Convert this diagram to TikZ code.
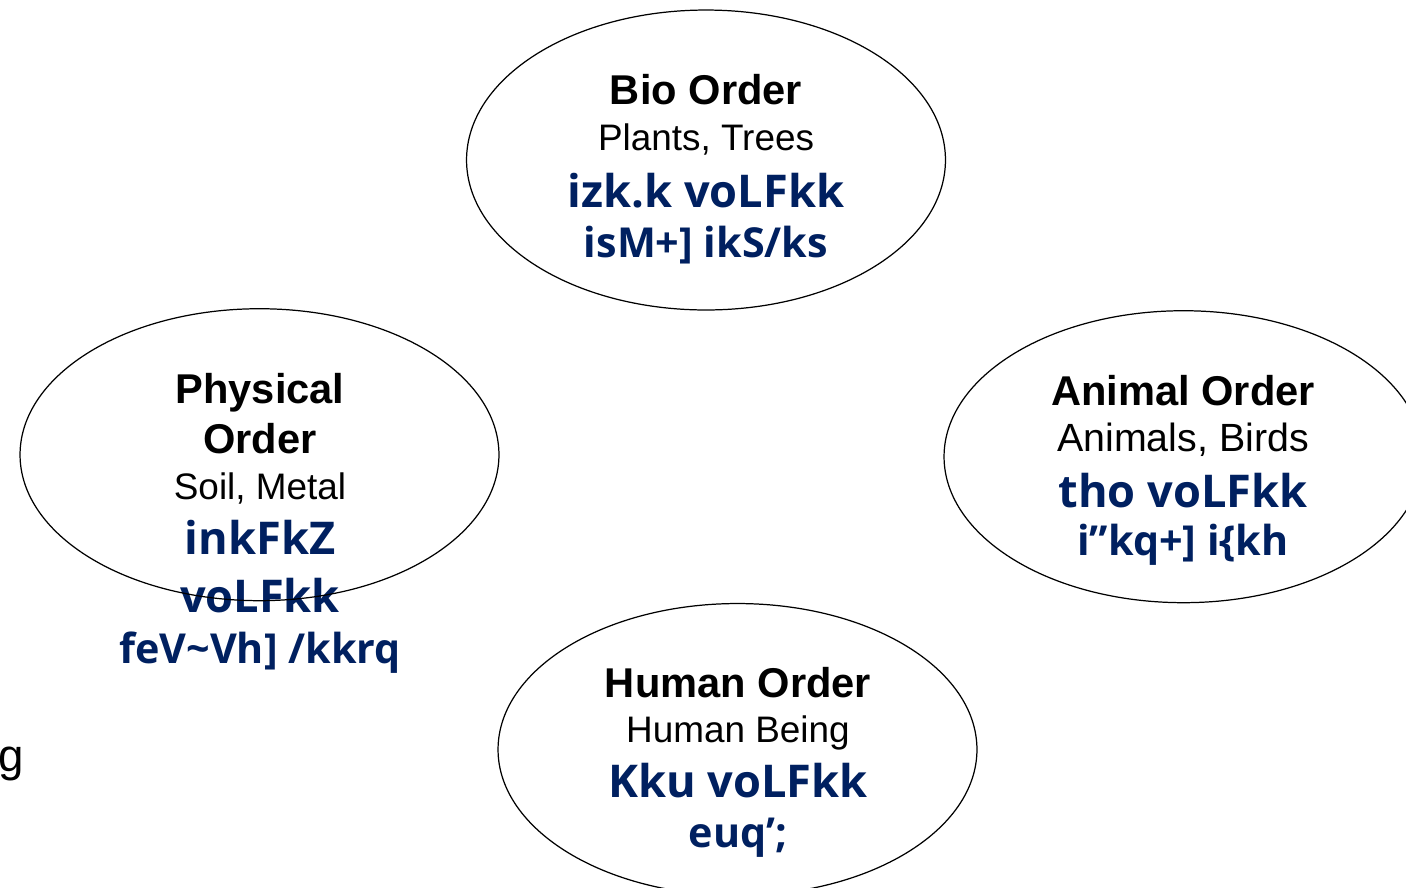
\documentclass[tikz,border=0pt]{standalone}
\usepackage{fontspec}
\setmainfont{Liberation Sans}
\newfontfamily\krutifont{Open Sans}
\usetikzlibrary{shapes.geometric, positioning}
\definecolor{hindiblue}{RGB}{0,32,96}
\tikzstyle{order}=[draw, ellipse, line width=0.7pt, minimum width=9.58cm, minimum height=5.84cm, inner sep=0]
\tikzstyle{ordername}=[font=\fontsize{23.7}{28}\selectfont\bfseries, anchor=base, inner sep=0]
\tikzstyle{members}=[font=\fontsize{21}{25}\selectfont, anchor=base, inner sep=0]
\tikzstyle{hindiline}=[font=\krutifont\bfseries\fontsize{25.7}{30}\selectfont, text=hindiblue, anchor=base, inner sep=0]
\tikzstyle{hindisub}=[font=\krutifont\bfseries\fontsize{23.5}{28}\selectfont, text=hindiblue, anchor=base, inner sep=0]

\begin{document}
\begin{tikzpicture}[x=0.02cm, y=-0.02cm]
    \useasboundingbox (0,0) rectangle (1406,887);

    % bio order
    \node[ordername] (bio name) at (706,104) {Bio Order};
    \node[members] (bio members) at (706,150) {Plants, Trees};
    \node[hindiline] (bio hindi) at (706,207) {izk.k voLFkk};
    \node[hindisub] (bio sub) at (706,257) {isM+] ikS/ks};

    % physical order
    \node[ordername] (phy name) at (260,403) {Physical};
    \node[ordername] (phy name2) at (260,453) {Order};
    \node[members] (phy members) at (260,499) {Soil, Metal};
    \node[hindiline] (phy hindi) at (260,554) {inkFkZ};
    \node[hindiline] (phy hindi2) at (260,612) {voLFkk};
    \node[hindisub] (phy sub) at (260,663) {feV\textasciitilde Vh] /kkrq};

    % animal order
    \node[ordername] (ani name) at (1183,405) {Animal Order};
    \node[members, font=\fontsize{22.4}{26}\selectfont] (ani members) at (1183,451) {Animals, Birds};
    \node[hindiline] (ani hindi) at (1183,507) {tho voLFkk};
    \node[hindisub] (ani sub) at (1183,555) {i”kq+] i\{kh};

    % human order
    \node[ordername] (hum name) at (738,697) {Human Order};
    \node[members] (hum members) at (738,742) {Human Being};
    \node[hindiline] (hum hindi) at (738,797) {Kku voLFkk};
    \node[hindisub] (hum sub) at (738,847) {euq’;};

    \node[members, anchor=base east, font=\fontsize{26}{30}\selectfont] (stray) at (24,771) {g};

    % the ellipses go on top of the text
    \node[order, minimum height=6cm] (bio) at (706,160) {};
    \node[order] (phy) at (259.5,454.7) {};
    \node[order] (ani) at (1183.5,456.7) {};
    \node[order] (hum) at (737.5,749.5) {};
\end{tikzpicture}
\end{document}
